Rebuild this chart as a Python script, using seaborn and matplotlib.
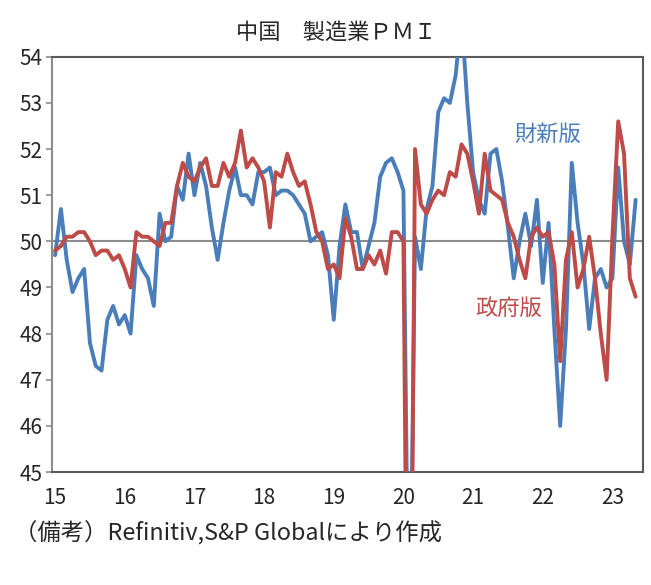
import numpy as np
import pandas as pd
import matplotlib.pyplot as plt
import seaborn as sns

# Monthly PMI, Jan 2015 - May 2023
caixin = [
    49.7, 50.7, 49.6, 48.9, 49.2, 49.4, 47.8, 47.3, 47.2, 48.3, 48.6, 48.2,  # 2015
    48.4, 48.0, 49.7, 49.4, 49.2, 48.6, 50.6, 50.0, 50.1, 51.2, 50.9, 51.9,  # 2016
    51.0, 51.7, 51.2, 50.3, 49.6, 50.4, 51.1, 51.6, 51.0, 51.0, 50.8, 51.5,  # 2017
    51.5, 51.6, 51.0, 51.1, 51.1, 51.0, 50.8, 50.6, 50.0, 50.1, 50.2, 49.7,  # 2018
    48.3, 49.9, 50.8, 50.2, 50.2, 49.4, 49.9, 50.4, 51.4, 51.7, 51.8, 51.5,  # 2019
    51.1, 40.3, 50.1, 49.4, 50.7, 51.2, 52.8, 53.1, 53.0, 53.6, 54.9, 53.0,  # 2020
    51.5, 50.9, 50.6, 51.9, 52.0, 51.3, 50.3, 49.2, 50.0, 50.6, 49.9, 50.9,  # 2021
    49.1, 50.4, 48.1, 46.0, 48.1, 51.7, 50.4, 49.5, 48.1, 49.2, 49.4, 49.0,  # 2022
    49.2, 51.6, 50.0, 49.5, 50.9,                                            # 2023
]
nbs = [
    49.8, 49.9, 50.1, 50.1, 50.2, 50.2, 50.0, 49.7, 49.8, 49.8, 49.6, 49.7,
    49.4, 49.0, 50.2, 50.1, 50.1, 50.0, 49.9, 50.4, 50.4, 51.2, 51.7, 51.4,
    51.3, 51.6, 51.8, 51.2, 51.2, 51.7, 51.4, 51.7, 52.4, 51.6, 51.8, 51.6,
    51.3, 50.3, 51.5, 51.4, 51.9, 51.5, 51.2, 51.3, 50.8, 50.2, 50.0, 49.4,
    49.5, 49.2, 50.5, 50.1, 49.4, 49.4, 49.7, 49.5, 49.8, 49.3, 50.2, 50.2,
    50.0, 35.7, 52.0, 50.8, 50.6, 50.9, 51.1, 51.0, 51.5, 51.4, 52.1, 51.9,
    51.3, 50.6, 51.9, 51.1, 51.0, 50.9, 50.4, 50.1, 49.6, 49.2, 50.1, 50.3,
    50.1, 50.2, 49.5, 47.4, 49.6, 50.2, 49.0, 49.4, 50.1, 49.2, 48.0, 47.0,
    50.1, 52.6, 51.9, 49.2, 48.8,
]
years = list(range(2015, 2024))
year_labels = [str(y % 100) for y in years]

t = 2015 + np.arange(len(caixin)) / 12
df = pd.DataFrame({
    't': np.concatenate([t, t]),
    'pmi': caixin + nbs,
    'series': ['財新版'] * len(caixin) + ['政府版'] * len(nbs),
})

sns.set_style('white')
plt.rcParams['font.family'] = ['Noto Sans CJK JP', 'DejaVu Sans']

blue = '#4a7ebb'
red = '#be4b48'

fig = plt.figure(figsize=(6.51, 5.85), dpi=100)
ax = fig.add_axes([0.080, 0.193, 0.908, 0.710])

ax.axhline(50, color='#8c8c8c', lw=1.5, zorder=1)
sns.lineplot(data=df, x='t', y='pmi', hue='series', palette=[blue, red],
             linewidth=2.8, legend=False, ax=ax, zorder=3)

ax.set_ylim(45, 54)
ax.set_xlim(2015 - 0.52 / 12, 2015 + 101.3 / 12)
ax.set_yticks(range(45, 55))
ax.set_xticks(years)
ax.set_xticklabels(year_labels)
ax.set_xlabel('')
ax.set_ylabel('')
ax.tick_params(axis='y', length=4, width=1.2, color='#8c8c8c', labelsize=15, pad=3, direction='out', left=True)
ax.tick_params(axis='x', length=0, labelsize=15, pad=11)
for side in ['left', 'bottom', 'top', 'right']:
    ax.spines[side].set_color('#5a5a5a')
    ax.spines[side].set_linewidth(1.5)
ax.spines['left'].set_color('#8c8c8c')

ax.text(0.839, 0.814, '財新版', transform=ax.transAxes, color=blue, fontsize=16, ha='center', va='center')
ax.text(0.772, 0.393, '政府版', transform=ax.transAxes, color=red, fontsize=16, ha='center', va='center')

fig.text(0.516, 0.945, '中国　製造業ＰＭＩ', ha='center', va='center', fontsize=16)
fig.text(0.022, 0.089, '（備考）Refinitiv,S&P Globalにより作成', ha='left', va='center', fontsize=16.8)

fig.savefig('out.png', dpi=100)
